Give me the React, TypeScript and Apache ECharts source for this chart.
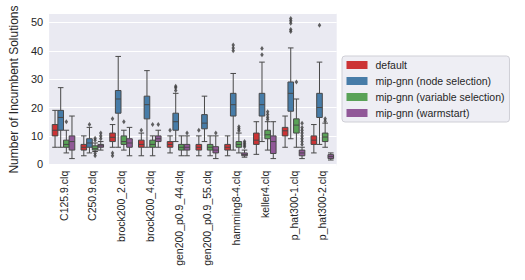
import React, { useEffect, useRef } from "react";
import * as echarts from "echarts";

const categories = [
  "C125.9.clq", "C250.9.clq", "brock200_2.clq", "brock200_4.clq", "gen200_p0.9_44.clq",
  "gen200_p0.9_55.clq", "hamming8-4.clq", "keller4.clq", "p_hat300-1.clq", "p_hat300-2.clq",
];

const seriesNames = [
  "default",
  "mip-gnn (node selection)",
  "mip-gnn (variable selection)",
  "mip-gnn (warmstart)",
];

const seriesColors = ["#cc3335", "#477ca8", "#59a257", "#915898"];

// [min, Q1, median, Q3, max]
const defaultBoxes = [
  [6, 10, 12, 14, 19], [3, 5, 6, 7, 10], [6, 8, 9.5, 11, 14], [3, 6, 7, 8.5, 11], [4, 6, 7, 8, 10],
  [3, 5, 6, 7, 10], [3, 5, 6, 7, 10], [3.5, 7, 8.5, 11, 15], [6, 10, 11.8, 13, 17], [4, 7, 8.5, 10, 14],
];
const nodeBoxes = [
  [6, 12, 16.5, 19, 27], [4, 6, 7.5, 9, 13], [6, 18, 23, 26, 38], [6, 16, 21, 24, 33], [8, 12, 15, 18, 25],
  [8, 12.5, 14.5, 17.5, 24], [5, 17, 21, 25, 32], [8, 17, 21, 25, 36], [9, 18.7, 25, 29, 41], [7, 16.5, 20, 25, 36],
];
const variableBoxes = [
  [4, 6, 7, 8.5, 12], [4.5, 5, 5.5, 6.5, 7.5], [5, 7, 8, 10, 12], [3, 6, 7, 8.5, 10], [3, 5, 6, 7, 10],
  [3, 5, 6, 7, 10], [4, 6, 7, 8, 11], [5, 9, 10.4, 12, 15], [6, 11, 13.8, 16, 23], [6, 8, 9.6, 11, 14.5],
];
const warmstartBoxes = [
  [2, 5, 8, 10, 17], [5, 6, 6.5, 7, 8], [3, 6, 7.5, 9, 13], [6, 8, 9, 10, 12], [3, 5, 6, 7, 10],
  [2, 4, 5, 6.2, 10], [2.5, 3, 3.4, 4, 5], [2, 3.8, 8, 10, 15], [2, 3, 4, 5, 6], [1.5, 2, 2.7, 3.4, 4],
];

const defaultOutliers = [[], [], [16, 4, 3], [12], [12], [12], [], [], [], []];
const nodeOutliers = [[], [14], [], [], [26, 27, 27.5], [], [40, 41, 42], [38.6, 40.8], [46.8, 47.5, 49.7, 50.6, 51.4], [49]];
const variableOutliers = [[15], [8.5, 9.2, 3.9, 3], [15], [14], [], [], [11.8, 12.5, 13.2], [15.8, 16.6, 17.5, 18.5], [29], [15.2, 16]];
const warmstartOutliers = [[], [9, 10, 11], [], [14], [11], [11], [6.2, 6.8, 7.4, 8], [], [7, 8, 9, 10, 11, 12, 13, 14.5], []];

const yTickValues = [0, 10, 20, 30, 40, 50];

const allBoxes = [defaultBoxes, nodeBoxes, variableBoxes, warmstartBoxes];
const allOutliers = [defaultOutliers, nodeOutliers, variableOutliers, warmstartOutliers];

const FONT = "'Liberation Sans', Arial, sans-serif";

export default function App() {
  const ref = useRef<HTMLDivElement>(null);
  useEffect(() => {
    if (!ref.current) return;
    const chart = echarts.init(ref.current, undefined, { renderer: "svg" });
    const step = 0.197;
    const boxSeries = seriesNames.map((name, si) => ({
      name,
      type: "boxplot",
      xAxisIndex: 0,
      yAxisIndex: 0,
      boxWidth: [5.6, 5.6],
      data: allBoxes[si],
      itemStyle: { color: seriesColors[si], borderColor: "#484848", borderWidth: 1 },
      emphasis: { disabled: true },
    }));
    const outlierSeries = seriesNames.map((name, si) => ({
      name: name + " outliers",
      type: "scatter",
      xAxisIndex: 1,
      yAxisIndex: 0,
      symbol: "diamond",
      symbolSize: [3.5, 5],
      itemStyle: { color: "#3c3c3c" },
      data: allOutliers[si].flatMap((vals, ci) =>
        vals.map((v) => [ci + (si - 1.5) * step, v])
      ),
      silent: true,
    }));
    chart.setOption({
      animation: false,
      textStyle: { fontFamily: FONT },
      grid: {
        left: 42.7, top: 13.3, right: 188.3, bottom: 114.3,
        show: true, backgroundColor: "#eaeaf2", borderWidth: 0,
      },
      legend: {
        orient: "vertical",
        left: 342,
        top: 56,
        padding: [3, 5, 3, 4.5],
        itemGap: 4,
        itemWidth: 21,
        itemHeight: 8,
        backgroundColor: "#eeeef4",
        borderColor: "#cfcfd6",
        borderWidth: 1,
        borderRadius: 3,
        textStyle: { fontSize: 10.5, color: "#262626", lineHeight: 12, padding: [0, 0, 0, 3], fontFamily: FONT },
        data: seriesNames.map((n, i) => ({
          name: n,
          icon: "rect",
          itemStyle: { color: seriesColors[i], borderWidth: 0 },
        })),
      },
      xAxis: [
        {
          type: "category",
          data: categories,
          axisLine: { show: false },
          axisTick: { show: false },
          splitLine: { show: false },
          axisLabel: { rotate: 90, fontSize: 10.5, color: "#262626", margin: 5, interval: 0, fontFamily: FONT },
        },
        {
          type: "value",
          min: -0.5,
          max: 9.5,
          show: false,
        },
      ],
      yAxis: {
        type: "value",
        min: -0.5,
        max: 53.2,
        splitNumber: 5,
        name: "Number of Incumbent Solutions",
        nameLocation: "middle",
        nameRotate: 90,
        nameGap: 19,
        nameTextStyle: { fontSize: 12, color: "#262626", fontFamily: FONT },
        axisLine: { show: false },
        axisTick: { show: false },
        axisLabel: {
          fontSize: 11, color: "#262626", margin: 6, fontFamily: FONT,
          showMinLabel: false, showMaxLabel: false,
          formatter: (v: number) => (yTickValues.includes(v) ? String(v) : ""),
        },
        splitLine: { lineStyle: { color: "#ffffff", width: 1 } },
      },
      series: [...boxSeries, ...outlierSeries],
    });
    return () => chart.dispose();
  }, []);
  return <div ref={ref} style={{ width: 525, height: 280, position: "absolute", left: 0, top: 0 }} />;
}
